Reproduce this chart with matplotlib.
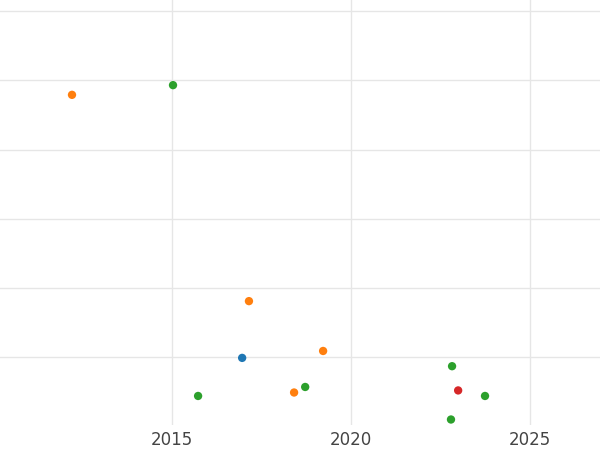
import matplotlib
matplotlib.use("Agg")
import matplotlib.pyplot as plt

years = [2012.21, 2015.03, 2017.15, 2016.96, 2019.22, 2015.73, 2018.41, 2018.72, 2022.82, 2022.99, 2023.74, 2022.79]
values = [4.79, 4.93, 1.81, 0.99, 1.09, 0.44, 0.49, 0.57, 0.87, 0.52, 0.44, 0.10]
groups = ["orange", "green", "orange", "blue", "orange", "green", "orange", "green", "green", "red", "green", "green"]
palette = {"blue": "#1f77b4", "orange": "#ff7f0e", "green": "#2ca02c", "red": "#d62728"}

fig = plt.figure(figsize=(6, 4.5), dpi=100)
ax = fig.add_axes([0, 0.055, 1, 0.945])
ax.scatter(years, values, c=[palette[g] for g in groups], s=36, zorder=3, linewidths=0)
ax.set_xlim(2010.2, 2026.95)
ax.set_ylim(0.017, 6.16)
ax.set_xticks([2015, 2020, 2025])
ax.set_yticks([1, 2, 3, 4, 5, 6])
ax.set_yticklabels([])
ax.grid(True, color="#e6e6e6", linewidth=1)
ax.set_axisbelow(True)
for s in ax.spines.values():
    s.set_visible(False)
ax.tick_params(length=0, labelsize=12, labelcolor="#444444", pad=4)
fig.savefig("out.png", dpi=100)
